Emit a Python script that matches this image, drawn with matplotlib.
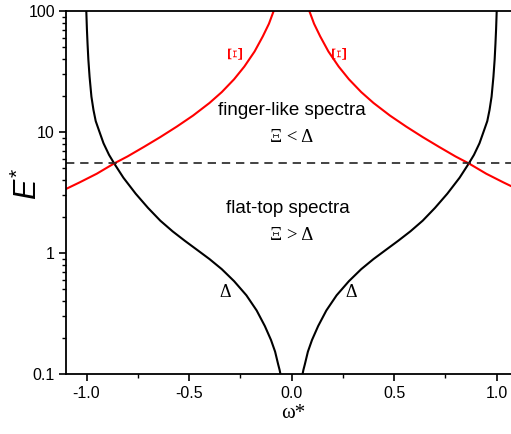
import matplotlib
matplotlib.use("Agg")
import matplotlib.pyplot as plt
from matplotlib.ticker import FixedLocator, LogLocator, NullFormatter, FormatStrFormatter

plt.rcParams['font.family'] = ['Liberation Sans', 'DejaVu Sans']
plt.rcParams['axes.unicode_minus'] = False
plt.rcParams['mathtext.fontset'] = 'custom'
plt.rcParams['mathtext.it'] = 'Liberation Sans:italic'
plt.rcParams['mathtext.rm'] = 'Liberation Sans'

# Delta curves (black), left and right branches
delta_left_w = [-1.001, -0.998, -0.995, -0.991, -0.985, -0.976, -0.966, -0.955, -0.94, -0.917,
                -0.89, -0.865, -0.82, -0.76, -0.70, -0.64, -0.58, -0.52, -0.46, -0.40,
                -0.34, -0.28, -0.22, -0.17, -0.13, -0.10, -0.08, -0.065, -0.058, -0.054]
delta_left_E = [100, 70.8, 54.1, 39.8, 28.6, 19.6, 15.2, 12.3, 10.4, 8.07,
                6.47, 5.50, 4.19, 3.09, 2.36, 1.85, 1.51, 1.26, 1.06, 0.891,
                0.735, 0.585, 0.447, 0.335, 0.249, 0.191, 0.153, 0.120, 0.108, 0.1]
delta_right_w = [1.001, 0.998, 0.995, 0.991, 0.985, 0.976, 0.966, 0.955, 0.94, 0.917,
                 0.89, 0.865, 0.82, 0.76, 0.70, 0.64, 0.58, 0.52, 0.46, 0.40,
                 0.34, 0.28, 0.22, 0.17, 0.13, 0.10, 0.08, 0.065, 0.058, 0.054]
delta_right_E = delta_left_E

# Xi curves (red)
xi_left_w = [-1.102, -1.034, -0.95, -0.865, -0.80, -0.72, -0.64, -0.56, -0.48, -0.40,
             -0.34, -0.28, -0.23, -0.18, -0.14, -0.11, -0.087]
xi_left_E = [3.37, 3.83, 4.52, 5.50, 6.28, 7.53, 9.08, 11.07, 13.68, 17.38,
             21.38, 27.29, 34.75, 46.3, 61.7, 78.5, 100]
xi_right_w = [1.102, 1.034, 0.95, 0.865, 0.80, 0.72, 0.64, 0.56, 0.48, 0.40,
              0.34, 0.28, 0.23, 0.18, 0.14, 0.11, 0.087]
xi_right_E = xi_left_E

E_threshold = 5.5

x_ticks = [-1.0, -0.5, 0.0, 0.5, 1.0]
y_ticks = [0.1, 1, 10, 100]
y_ticklabels = ['0.1', '1', '10', '100']

fig = plt.figure(figsize=(5.11, 4.34), dpi=100)
W, H = 511, 434
ax = fig.add_axes([66 / W, 1 - 374 / H, 451 / W, 363 / H])

ax.plot(delta_left_w, delta_left_E, color='black', lw=1.5)
ax.plot(delta_right_w, delta_right_E, color='black', lw=1.5)
ax.plot(xi_left_w, xi_left_E, color='red', lw=1.5)
ax.plot(xi_right_w, xi_right_E, color='red', lw=1.5)
ax.axhline(E_threshold, color='#222222', lw=1.2, ls=(0, (5, 3.5)))

ax.set_yscale('log')
ax.set_xlim(-1.1, 1.1)
ax.set_ylim(0.1, 100)

ax.xaxis.set_major_locator(FixedLocator(x_ticks))
ax.xaxis.set_minor_locator(FixedLocator([-0.75, -0.25, 0.25, 0.75]))
ax.xaxis.set_major_formatter(FormatStrFormatter('%.1f'))
ax.yaxis.set_major_locator(FixedLocator(y_ticks))
ax.set_yticklabels(y_ticklabels)
ax.yaxis.set_minor_locator(LogLocator(base=10, subs=range(2, 10)))
ax.yaxis.set_minor_formatter(NullFormatter())

ax.tick_params(which='major', direction='out', length=5, width=1.2, labelsize=11.5, pad=3)
ax.tick_params(which='minor', direction='out', length=3, width=1.0)
ax.tick_params(axis='x', which='major', pad=4)
for s in ['left', 'bottom', 'top']:
    ax.spines[s].set_linewidth(1.3)
ax.spines['right'].set_visible(False)

serif = ['Liberation Serif', 'DejaVu Serif']
ax.text(0.0, 13.8, 'finger-like spectra', ha='center', va='baseline', fontsize=13.5)
ax.text(0.0, 8.26, 'Ξ < Δ', ha='center', va='baseline', fontsize=13.5, family=serif)
ax.text(-0.02, 2.14, 'flat-top spectra', ha='center', va='baseline', fontsize=13.5)
ax.text(0.0, 1.28, 'Ξ > Δ', ha='center', va='baseline', fontsize=13.5, family=serif)
ax.text(-0.324, 0.476, 'Δ', ha='center', va='center', fontsize=13, family=serif)
ax.text(0.293, 0.476, 'Δ', ha='center', va='center', fontsize=13, family=serif)
ax.text(-0.265, 45.6, 'Ξ', ha='center', va='center', fontsize=16, family=serif, color='red', rotation=90)
ax.text(0.242, 45.6, 'Ξ', ha='center', va='center', fontsize=16, family=serif, color='red', rotation=90)

fig.text(28 / W, 1 - 184 / H, r'$\mathit{E}^{*}$', rotation=90, ha='center', va='center', fontsize=22)
fig.text(293 / W, 1 - 418 / H, 'ω*', ha='center', va='baseline', fontsize=15, family=serif)

fig.savefig('out.png', dpi=100)
